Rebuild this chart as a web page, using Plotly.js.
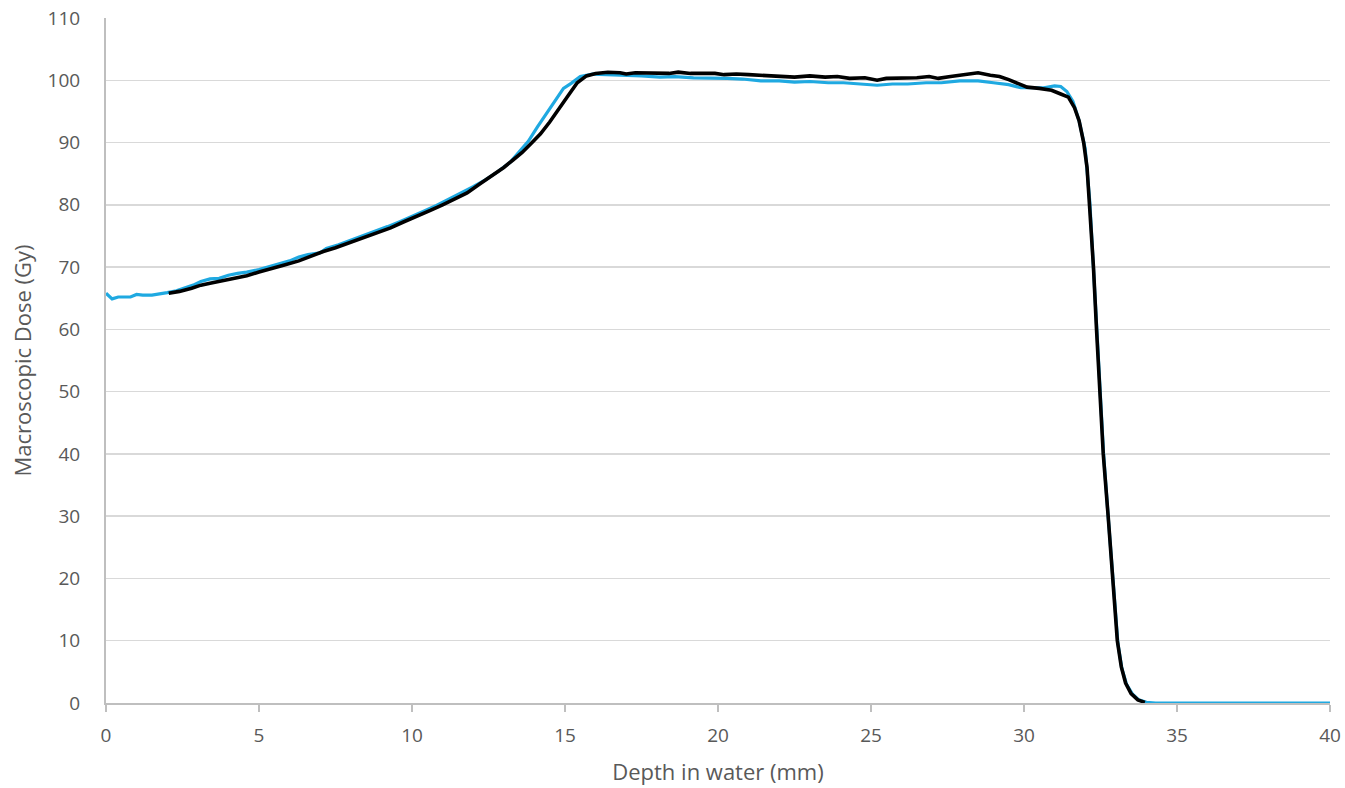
<!DOCTYPE html>
<html>
<head>
<meta charset="utf-8">
<script src="https://cdn.plot.ly/plotly-3.0.1.min.js"></script>
<style>html,body{margin:0;padding:0;background:#fff;}#chart{width:1345px;height:788px;}</style>
</head>
<body>
<div id="chart"></div>
<script>
const blueDepth = [0.0,0.2,0.4,0.6,0.8,1.0,1.2,1.5,1.8,2.0,2.3,2.6,2.9,3.1,3.4,3.7,4.0,4.3,4.6,5.0,5.3,5.6,6.0,6.3,6.6,7.0,7.2,7.6,8.0,8.4,8.8,9.2,9.6,10.0,10.4,10.8,11.2,11.6,12.0,12.4,12.8,13.2,13.5,13.8,14.1,14.4,14.7,14.95,15.2,15.5,15.9,16.5,17.0,17.5,18.1,18.6,19.2,19.7,20.3,20.8,21.4,22.0,22.5,23.0,23.6,24.1,24.6,25.2,25.7,26.2,26.8,27.3,27.9,28.5,29.0,29.5,29.9,30.3,30.65,31.0,31.2,31.4,31.6,31.8,32.0,32.15,32.28,32.38,32.49,32.6,32.75,32.87,32.98,33.07,33.2,33.35,33.55,33.75,34.0,34.3,35.0,36.0,37.0,38.0,39.0,40.0];
const blueDose = [65.8,64.9,65.2,65.2,65.2,65.6,65.5,65.5,65.7,65.9,66.2,66.7,67.2,67.7,68.1,68.2,68.7,69.0,69.2,69.6,70.0,70.5,71.0,71.6,72.0,72.3,73.0,73.6,74.3,75.0,75.8,76.5,77.3,78.1,79.0,79.9,80.9,81.8,82.9,84.0,85.3,86.8,88.5,90.2,92.5,94.7,97.0,98.7,99.5,100.6,101.0,100.9,100.8,100.7,100.5,100.6,100.4,100.4,100.3,100.2,99.9,99.9,99.7,99.8,99.6,99.6,99.4,99.2,99.4,99.4,99.6,99.6,99.9,99.9,99.6,99.3,98.8,98.8,98.8,99.1,99.0,98.2,96.6,93.5,89.0,80.5,70.0,60.0,50.0,40.0,30.0,22.0,15.0,9.5,5.5,3.0,1.4,0.5,0.1,0.0,0.0,0.0,0.0,0.0,0.0,0.0];

const blackDepth = [2.05,2.4,2.8,3.1,3.4,3.8,4.2,4.6,5.0,5.4,5.8,6.3,6.7,7.1,7.5,8.0,8.4,8.9,9.3,9.7,10.2,10.6,11.0,11.4,11.8,12.2,12.6,13.0,13.3,13.6,13.9,14.2,14.5,14.8,15.1,15.4,15.7,16.0,16.4,16.8,17.0,17.3,17.6,18.0,18.4,18.7,19.1,19.5,19.9,20.2,20.6,21.0,21.4,21.8,22.2,22.5,23.0,23.5,23.9,24.3,24.8,25.2,25.5,26.0,26.5,26.9,27.2,27.6,28.0,28.5,28.9,29.2,29.5,29.8,30.1,30.5,30.9,31.2,31.45,31.65,31.8,31.95,32.06,32.14,32.27,32.37,32.48,32.59,32.75,32.86,32.97,33.05,33.18,33.32,33.5,33.72,33.95];
const blackDose = [65.8,66.1,66.6,67.1,67.4,67.8,68.2,68.6,69.2,69.7,70.3,71.0,71.8,72.5,73.1,74.0,74.8,75.6,76.3,77.2,78.2,79.1,80.0,80.9,81.9,83.3,84.6,86.0,87.2,88.4,89.9,91.4,93.3,95.3,97.5,99.6,100.7,101.1,101.3,101.2,101.0,101.2,101.2,101.2,101.1,101.3,101.1,101.1,101.1,100.9,101.0,100.9,100.8,100.7,100.5,100.5,100.7,100.5,100.6,100.3,100.4,100.0,100.3,100.3,100.4,100.6,100.3,100.6,100.9,101.2,100.8,100.6,100.1,99.5,98.9,98.7,98.4,97.8,97.3,95.6,93.5,90.0,86.0,80.0,70.0,60.0,50.0,40.0,30.0,22.0,16.0,10.0,5.8,3.2,1.5,0.5,0.1];

const xTicks = [0,5,10,15,20,25,30,35,40];
const yTicks = [0,10,20,30,40,50,60,70,80,90,100,110];
const xTitle = 'Depth in water (mm)';
const yTitle = 'Macroscopic Dose (Gy)';

const font = 'Open Sans, Noto Sans, sans-serif';
const traces = [
  {x: blueDepth, y: blueDose, type: 'scatter', mode: 'lines', name: 'Series 1',
   line: {color: '#1fa9e1', width: 3.2}},
  {x: blackDepth, y: blackDose, type: 'scatter', mode: 'lines', name: 'Series 2',
   line: {color: '#000000', width: 3.6}}
];
const layout = {
  width: 1345, height: 788,
  margin: {l: 106, r: 15, t: 18, b: 85},
  paper_bgcolor: '#ffffff', plot_bgcolor: '#ffffff',
  showlegend: false,
  font: {family: font, color: '#595959', size: 19},
  xaxis: {
    range: [0, 40], tickvals: xTicks, ticktext: xTicks.map(String),
    showgrid: false, zeroline: false,
    showline: true, linecolor: '#bfbfbf', linewidth: 2,
    ticks: 'outside', ticklen: 7, tickwidth: 2, tickcolor: '#bfbfbf',
    ticklabelstandoff: 7,
    tickfont: {family: font, size: 19, color: '#595959'},
    title: {text: xTitle, font: {family: font, size: 22, color: '#595959'}, standoff: 18}
  },
  yaxis: {
    range: [0, 110], tickvals: yTicks, ticktext: yTicks.map(String),
    showgrid: true, gridcolor: '#d9d9d9', gridwidth: 1.5, zeroline: false,
    showline: true, linecolor: '#bfbfbf', linewidth: 2,
    ticks: '', ticklabelstandoff: 20,
    tickfont: {family: font, size: 19, color: '#595959'},
    title: {text: yTitle, font: {family: font, size: 22, color: '#595959'}, standoff: 10}
  }
};
Plotly.newPlot('chart', traces, layout, {displayModeBar: false, staticPlot: true});
</script>
</body>
</html>
